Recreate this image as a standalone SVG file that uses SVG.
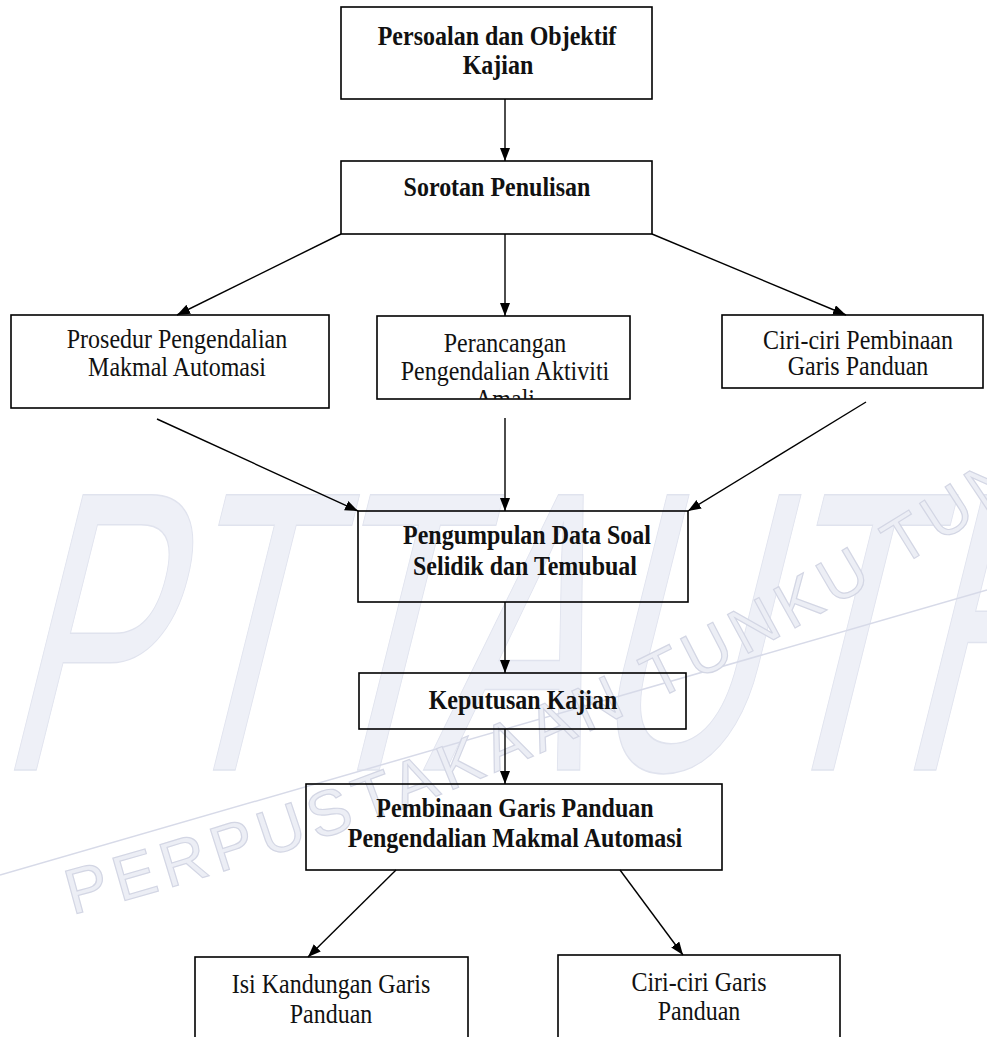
<svg xmlns="http://www.w3.org/2000/svg" width="987" height="1037" viewBox="0 0 987 1037">
<style>
.box{fill:none;stroke:#000;stroke-width:1.6}
.t{font-family:"Liberation Serif","Times New Roman",serif;font-size:24px;text-anchor:middle;fill:#111}
.b{font-weight:bold}
.c{stroke:#000;stroke-width:1.4;fill:none}
.wm{font-family:"Liberation Sans",Arial,sans-serif}
</style>
<defs>
<marker id="ah" markerUnits="userSpaceOnUse" markerWidth="14" markerHeight="12" refX="13" refY="5" orient="auto">
<path d="M0,0 L13,5 L0,10 Z" fill="#000"/>
</marker>
<clipPath id="clipPer"><rect x="377" y="316" width="253" height="83"/></clipPath>
<path id="arc" d="M72,915 Q600,775 1020,490"/>
</defs>
<rect width="987" height="1037" fill="#fff"/>
<g id="watermark">
<text class="wm" transform="translate(0,770) skewX(-14)" x="-5" y="0" font-size="400" textLength="1070" lengthAdjust="spacingAndGlyphs" fill="#eef0f7" stroke="#e0e3ee" stroke-width="1.5">PTTAUTH</text>
<line x1="0" y1="875" x2="987" y2="590" stroke="#d7dae8" stroke-width="1.5"/>
<text class="wm" font-size="64" fill="#eceef5" stroke="#d3d6e4" stroke-width="1.2" letter-spacing="7"><textPath href="#arc">PERPUSTAKAAN  TUNKU TUN</textPath></text>
</g>
<g id="connectors">
<line class="c" x1="505" y1="99" x2="505" y2="161" marker-end="url(#ah)"/>
<line class="c" x1="341" y1="234" x2="177" y2="315" marker-end="url(#ah)"/>
<line class="c" x1="505" y1="234" x2="505" y2="316" marker-end="url(#ah)"/>
<line class="c" x1="652" y1="234" x2="846" y2="315" marker-end="url(#ah)"/>
<line class="c" x1="157" y1="419" x2="358" y2="511" marker-end="url(#ah)"/>
<line class="c" x1="505" y1="418" x2="505" y2="511" marker-end="url(#ah)"/>
<line class="c" x1="866" y1="402" x2="688" y2="511" marker-end="url(#ah)"/>
<line class="c" x1="505" y1="602" x2="505" y2="673" marker-end="url(#ah)"/>
<line class="c" x1="505" y1="729" x2="505" y2="784" marker-end="url(#ah)"/>
<line class="c" x1="396" y1="870" x2="308" y2="957" marker-end="url(#ah)"/>
<line class="c" x1="620" y1="870" x2="683" y2="955" marker-end="url(#ah)"/>
</g>
<g id="n1">
<rect class="box" x="341" y="7" width="311" height="92"/>
<text class="t b" transform="translate(497,45) scale(1,1.12)">Persoalan dan Objektif</text>
<text class="t b" transform="translate(498,74) scale(1,1.12)">Kajian</text>
</g>
<g id="n2">
<rect class="box" x="341" y="161" width="311" height="73"/>
<text class="t b" transform="translate(497,196) scale(1,1.12)">Sorotan Penulisan</text>
</g>
<g id="n3">
<rect class="box" x="11" y="315" width="318" height="93"/>
<text class="t" transform="translate(177,348) scale(1,1.12)">Prosedur Pengendalian</text>
<text class="t" transform="translate(177,376) scale(1,1.12)">Makmal Automasi</text>
</g>
<g id="n4">
<rect class="box" x="377" y="316" width="253" height="83"/>
<g clip-path="url(#clipPer)">
<text class="t" transform="translate(505,352) scale(1,1.12)">Perancangan</text>
<text class="t" transform="translate(505,380) scale(1,1.12)">Pengendalian Aktiviti</text>
<text class="t" transform="translate(505,408) scale(1,1.12)">Amali</text>
</g>
</g>
<g id="n5">
<rect class="box" x="722" y="315" width="261" height="73"/>
<text class="t" transform="translate(858,349) scale(1,1.12)">Ciri-ciri Pembinaan</text>
<text class="t" transform="translate(858,375) scale(1,1.12)">Garis Panduan</text>
</g>
<g id="n6">
<rect class="box" x="358" y="511" width="330" height="91"/>
<text class="t b" transform="translate(527,544) scale(1,1.12)">Pengumpulan Data Soal</text>
<text class="t b" transform="translate(525,575) scale(1,1.12)">Selidik dan Temubual</text>
</g>
<g id="n7">
<rect class="box" x="359" y="673" width="327" height="56"/>
<text class="t b" transform="translate(523,709) scale(1,1.12)">Keputusan Kajian</text>
</g>
<g id="n8">
<rect class="box" x="306" y="784" width="416" height="86"/>
<text class="t b" transform="translate(515,817) scale(1,1.12)">Pembinaan Garis Panduan</text>
<text class="t b" transform="translate(515,847) scale(1,1.12)">Pengendalian Makmal Automasi</text>
</g>
<g id="n9">
<rect class="box" x="195" y="957" width="273" height="90"/>
<text class="t" transform="translate(331,993) scale(1,1.12)">Isi Kandungan Garis</text>
<text class="t" transform="translate(331,1023) scale(1,1.12)">Panduan</text>
</g>
<g id="n10">
<rect class="box" x="558" y="955" width="282" height="92"/>
<text class="t" transform="translate(699,991) scale(1,1.12)">Ciri-ciri Garis</text>
<text class="t" transform="translate(699,1020) scale(1,1.12)">Panduan</text>
</g>
</svg>
